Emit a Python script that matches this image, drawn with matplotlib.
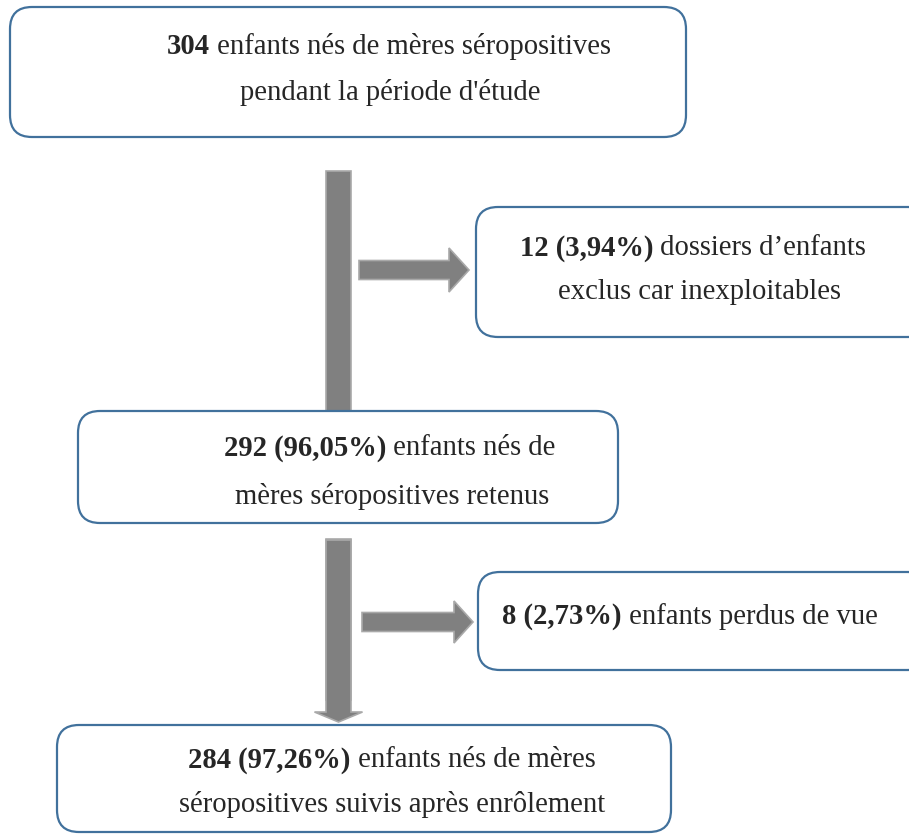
import matplotlib
matplotlib.use("Agg")
import matplotlib.pyplot as plt
from matplotlib.patches import FancyBboxPatch, Polygon

# ---- data ----
counts = [304, 12, 292, 8, 284]
percents = [None, "3,94%", "96,05%", "2,73%", "97,26%"]
box_lines = [
    [[("304", "bold"), (" enfants nés de mères séropositives", "normal")],
     [("pendant la période d'étude", "normal")]],
    [[("12 (3,94%)", "bold"), (" dossiers d’enfants", "normal")],
     [("exclus car inexploitables", "normal")]],
    [[("292 (96,05%)", "bold"), (" enfants nés de", "normal")],
     [("mères séropositives retenus", "normal")]],
    [[("8 (2,73%)", "bold"), (" enfants perdus de vue", "normal")]],
    [[("284 (97,26%)", "bold"), (" enfants nés de mères", "normal")],
     [("séropositives suivis après enrôlement", "normal")]],
]

# ---- layout (pixels) ----
W, H = 909, 835
fig = plt.figure(figsize=(W / 100, H / 100), dpi=100)
ax = fig.add_axes([0, 0, 1, 1])
ax.set_xlim(0, W)
ax.set_ylim(H, 0)
ax.axis("off")

box_rects = [  # x0, y0, x1, y1
    (10, 7, 686, 137),
    (476, 207, 930, 337),
    (78, 411, 618, 523),
    (478, 572, 930, 670),
    (57, 725, 671, 832),
]
text_pos = [  # (center x, [y of each line])
    ([389, 390], [46, 92]),
    ([693, 699], [248, 292]),
    ([390, 392], [448, 496]),
    ([690], [617]),
    ([392, 392], [760, 805]),
]

edge_col = "#41719C"
arrow_col = "#808080"
arrow_edge = "#a9a9a9"

def vbar(x0, x1, y0, y1):
    ax.add_patch(Polygon([(x0, y0), (x1, y0), (x1, y1), (x0, y1)], closed=True,
                         facecolor=arrow_col, edgecolor=arrow_edge, lw=1.2, zorder=1))

def harrow(xs, xh, xt, yc, sh, hh):
    pts = [(xs, yc - sh / 2), (xh, yc - sh / 2), (xh, yc - hh / 2), (xt, yc),
           (xh, yc + hh / 2), (xh, yc + sh / 2), (xs, yc + sh / 2)]
    ax.add_patch(Polygon(pts, closed=True, facecolor=arrow_col,
                         edgecolor=arrow_edge, lw=1.2, zorder=1))

def varrow(xc, ys, yh, yt, sw, hw):
    pts = [(xc - sw / 2, ys), (xc + sw / 2, ys), (xc + sw / 2, yh), (xc + hw / 2, yh),
           (xc, yt), (xc - hw / 2, yh), (xc - sw / 2, yh)]
    ax.add_patch(Polygon(pts, closed=True, facecolor=arrow_col,
                         edgecolor=arrow_edge, lw=1.2, zorder=1))

vbar(326, 351, 171, 415)
harrow(359, 449, 469, 270, 19, 44)
vbar(326, 351, 539, 700)
varrow(338.5, 540, 712, 722, 25, 48)
harrow(362, 454, 473, 622, 19, 42)

for (x0, y0, x1, y1) in box_rects:
    ax.add_patch(FancyBboxPatch((x0, y0), x1 - x0, y1 - y0,
                                boxstyle="round,pad=0,rounding_size=22",
                                facecolor="white", edgecolor=edge_col, lw=1.6, zorder=2))

fs = 20.6
family = "Liberation Serif"
renderer = fig.canvas.get_renderer()
for lines, (xcs, ys) in zip(box_lines, text_pos):
    for segs, xc, y in zip(lines, xcs, ys):
        objs = []
        for s, wgt in segs:
            t = ax.text(0, y, s, fontsize=fs, family=family, weight=wgt,
                        color="#262626", ha="left", va="center", zorder=3)
            objs.append(t)
        widths = [t.get_window_extent(renderer=renderer).width for t in objs]
        total = sum(widths)
        x = xc - total / 2
        for t, w in zip(objs, widths):
            t.set_x(x)
            x += w

fig.savefig("out.png", dpi=100)
